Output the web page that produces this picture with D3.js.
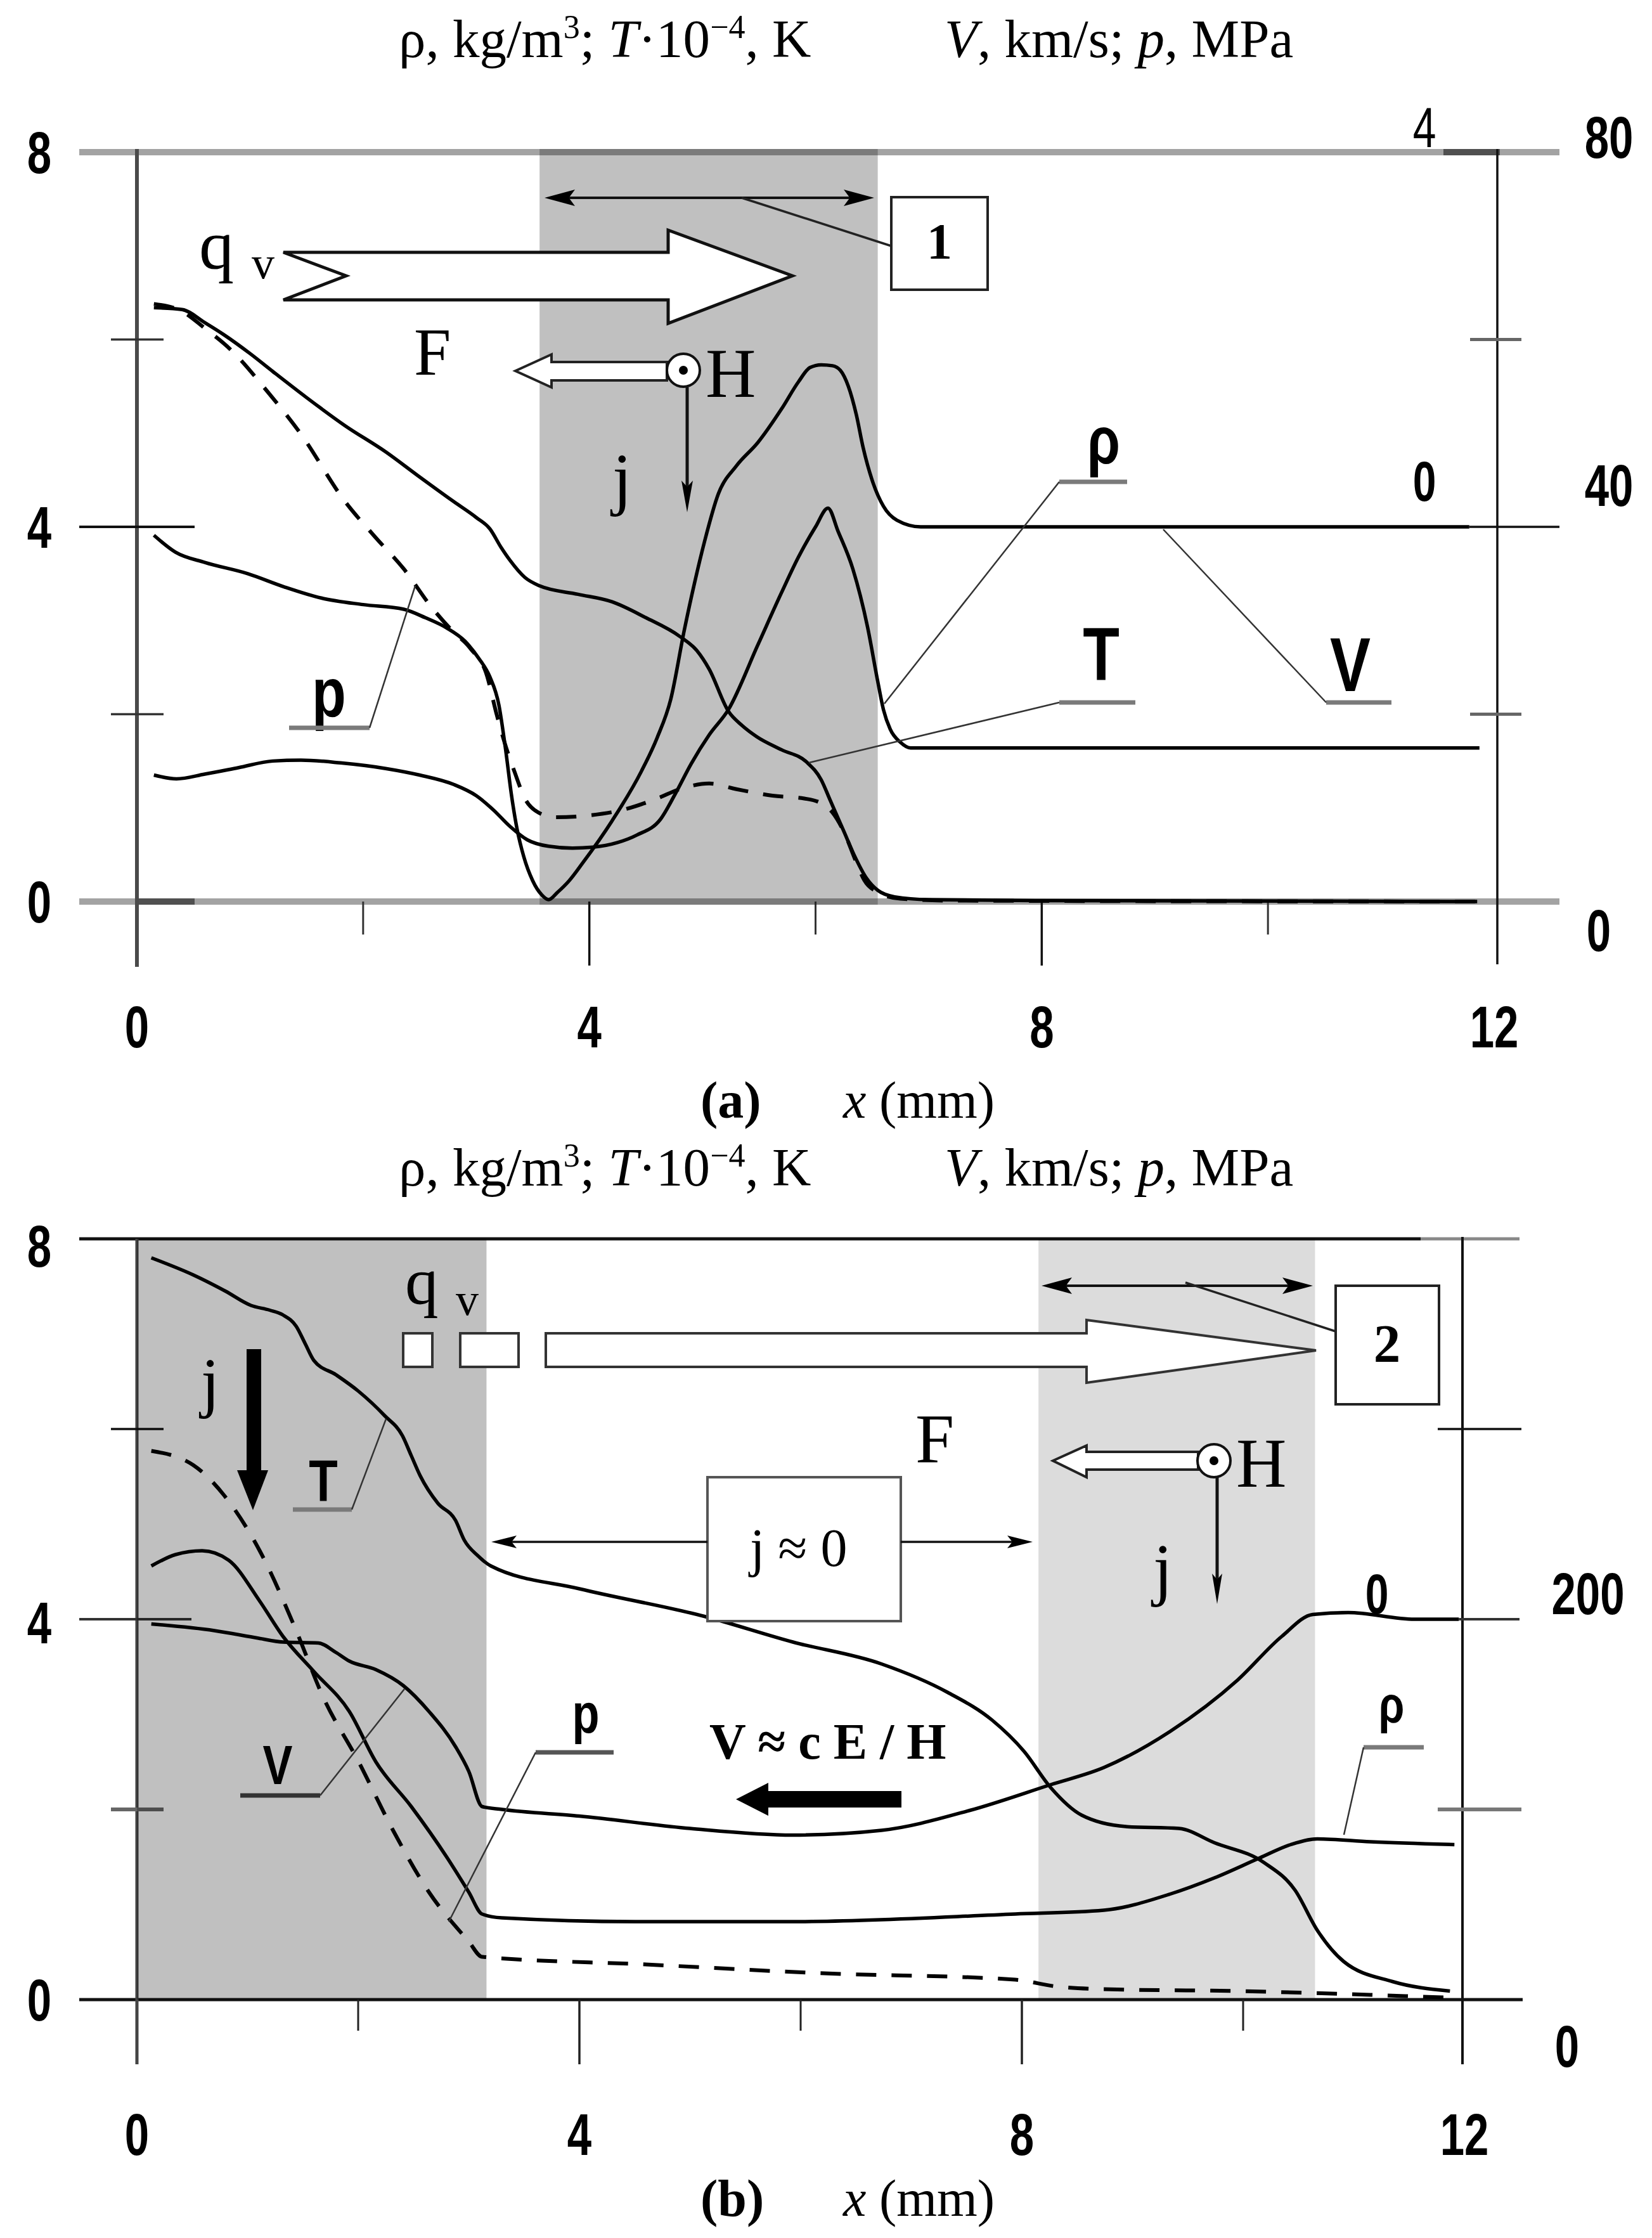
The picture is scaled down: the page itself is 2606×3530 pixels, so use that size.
<!DOCTYPE html>
<html><head><meta charset="utf-8">
<script src="https://cdn.jsdelivr.net/npm/d3@7"></script>
<style>html,body{margin:0;padding:0;background:#fff}svg{display:block}</style>
</head><body>
<svg id="chart" width="2606" height="3530" xmlns="http://www.w3.org/2000/svg"></svg>
<script>
// ---------------- DATA ----------------
const xLabelTicks = [0, 4, 8, 12];
const xMinorTicks = [2, 6, 10];
const yLabelTicks = [0, 4, 8];
const yMinorTicks = [2, 6];
const rightTicksA = [0, 40, 80];      // p, MPa (panel a)
const rightTicksB = [0, 200];         // p, MPa (panel b)
const vTicksA = [0, 4];               // V, km/s (panel a)
const vTicksB = [0];                  // V, km/s (panel b)
const shadeA = [3.56, 6.55];
const shadeBdark = [0, 3.16];
const shadeBlight = [8.15, 10.65];

// Panel (a): x in mm
const aT = [[0.15,6.34],[0.4,6.32],[0.6,6.18],[0.77,6.05],[1.0,5.85],[1.2,5.66],[1.5,5.38],[1.84,5.08],[2.2,4.8],[2.48,4.55],[2.8,4.27],[3.0,4.1],[3.12,3.98],[3.22,3.78],[3.3,3.64],[3.43,3.46],[3.56,3.37],[3.9,3.28],[4.2,3.2],[4.5,3.03],[4.8,2.83],[4.95,2.68],[5.06,2.48],[5.23,2.03],[5.35,1.88],[5.48,1.76],[5.7,1.62],[5.92,1.49],[6.05,1.3],[6.13,1.08],[6.25,0.75],[6.34,0.5],[6.45,0.25],[6.55,0.12],[6.7,0.05],[7.0,0.02],[8.0,0.01],[11.85,0]];
const aRho = [[0.15,1.35],[0.35,1.31],[0.6,1.36],[0.9,1.43],[1.2,1.5],[1.45,1.51],[1.8,1.48],[2.2,1.42],[2.5,1.35],[2.8,1.25],[3.0,1.13],[3.15,0.98],[3.3,0.8],[3.45,0.66],[3.64,0.59],[3.85,0.57],[4.03,0.58],[4.25,0.63],[4.42,0.71],[4.63,0.88],[4.76,1.15],[4.9,1.47],[5.06,1.78],[5.23,2.05],[5.49,2.74],[5.7,3.3],[5.85,3.68],[6.0,4.0],[6.11,4.2],[6.2,3.95],[6.33,3.55],[6.46,2.93],[6.55,2.35],[6.6,2.05],[6.66,1.84],[6.75,1.7],[6.84,1.64],[7.2,1.64],[11.87,1.64]];
const aV = [[0.15,-0.09],[0.34,-0.27],[0.6,-0.38],[0.98,-0.5],[1.3,-0.64],[1.63,-0.76],[2.0,-0.83],[2.36,-0.88],[2.55,-0.97],[2.74,-1.08],[2.9,-1.22],[3.02,-1.4],[3.12,-1.6],[3.2,-1.9],[3.26,-2.38],[3.31,-2.85],[3.36,-3.22],[3.42,-3.52],[3.5,-3.78],[3.58,-3.93],[3.64,-3.98],[3.72,-3.9],[3.82,-3.78],[3.94,-3.59],[4.2,-3.14],[4.46,-2.61],[4.6,-2.25],[4.72,-1.84],[4.84,-1.1],[4.93,-0.6],[5.02,-0.15],[5.14,0.35],[5.3,0.65],[5.49,0.9],[5.7,1.26],[5.85,1.55],[5.95,1.7],[6.05,1.73],[6.15,1.72],[6.22,1.67],[6.29,1.5],[6.36,1.2],[6.42,0.85],[6.5,0.5],[6.6,0.22],[6.72,0.07],[6.93,0],[11.78,0]];
const aP = [[0.15,63.8],[0.4,63],[0.6,61.2],[0.83,58.9],[1.15,54.5],[1.45,49.9],[1.84,42.7],[2.1,39],[2.36,35.5],[2.6,31.5],[2.78,29],[2.95,27],[3.09,24.3],[3.18,20],[3.25,17],[3.34,13.8],[3.43,11],[3.55,9.5],[3.7,9],[4.0,9.2],[4.3,9.8],[4.6,11],[4.8,12],[5.06,12.6],[5.3,12],[5.62,11.3],[5.9,11],[6.05,10.5],[6.15,9.5],[6.26,7.2],[6.35,4.5],[6.43,2.3],[6.55,1],[6.75,0.3],[7.2,0.1],[11.85,0]];

// Panel (b)
const bT = [[0.13,7.8],[0.51,7.62],[0.8,7.45],[1.03,7.3],[1.2,7.25],[1.32,7.2],[1.44,7.08],[1.52,6.9],[1.6,6.72],[1.8,6.57],[2.0,6.4],[2.24,6.14],[2.4,5.93],[2.48,5.72],[2.56,5.51],[2.72,5.22],[2.88,5.04],[2.96,4.83],[3.08,4.67],[3.2,4.56],[4.0,4.32],[5.13,4.03],[5.93,3.76],[6.73,3.53],[7.33,3.23],[7.73,2.94],[8.02,2.61],[8.26,2.23],[8.54,1.94],[8.94,1.82],[9.42,1.8],[9.74,1.65],[10.19,1.44],[10.47,1.15],[10.67,0.73],[10.91,0.4],[11.35,0.19],[11.87,0.09]];
const bRho = [[0.13,4.56],[0.35,4.68],[0.59,4.72],[0.83,4.62],[1.11,4.19],[1.32,3.82],[1.6,3.45],[1.92,3.03],[2.16,2.5],[2.48,2.03],[2.8,1.5],[3.0,1.13],[3.12,0.9],[3.3,0.86],[4.5,0.82],[5.93,0.82],[7.94,0.9],[8.74,0.94],[9.34,1.11],[9.74,1.28],[10.15,1.49],[10.43,1.63],[10.67,1.69],[11.15,1.66],[11.91,1.63]];
const bV = [[0.13,-0.05],[0.7,-0.12],[1.1,-0.2],[1.32,-0.24],[1.64,-0.25],[1.8,-0.35],[1.92,-0.44],[2.16,-0.53],[2.41,-0.7],[2.64,-0.97],[2.88,-1.34],[3.0,-1.6],[3.12,-1.97],[3.3,-2.0],[4.0,-2.07],[5.0,-2.2],[5.93,-2.27],[6.73,-2.22],[7.53,-2.01],[8.26,-1.74],[8.74,-1.56],[9.34,-1.18],[9.95,-0.64],[10.35,-0.18],[10.63,0.05],[10.95,0.07],[11.55,0],[11.95,0]];
const bP = [[0.13,288.5],[0.51,281],[0.79,265],[1.11,236],[1.44,194],[1.68,159.5],[2.0,125.5],[2.32,88.5],[2.64,56.5],[3.0,30.5],[3.12,22.5],[4.6,18.5],[6.13,14],[7.94,10.5],[8.3,7],[8.74,5.5],[9.95,4.5],[11.15,2.5],[11.87,1]];

// ---------------- SCALES ----------------
const xA = d3.scaleLinear().domain([0,12]).range([216,2357]);
const yA = d3.scaleLinear().domain([0,8]).range([1422,240]);
const yAV = d3.scaleLinear().domain([-4,4]).range([1422,240]);
const yAP = d3.scaleLinear().domain([0,80]).range([1422,240]);
const xB = d3.scaleLinear().domain([0,12]).range([216,2310]);
const yB = d3.scaleLinear().domain([0,8]).range([3154,1954]);
const yBV = d3.scaleLinear().domain([-4,4]).range([3154,1954]);
const yBP = d3.scaleLinear().domain([0,400]).range([3154,1954]);

const svg = d3.select('#chart');
const SERIF = '"Liberation Serif","Times New Roman",serif';
const SANS = '"Liberation Sans",Arial,sans-serif';

function ln(g,x1,y1,x2,y2,color,w){
  return g.append('line').attr('x1',x1).attr('y1',y1).attr('x2',x2).attr('y2',y2)
    .attr('stroke',color).attr('stroke-width',w);
}
function poly(g,pts,fill,stroke,w){
  return g.append('path').attr('d','M'+pts.map(p=>p.join(',')).join('L')+'Z')
    .attr('fill',fill).attr('stroke',stroke||'none').attr('stroke-width',w||0).attr('stroke-linejoin','miter');
}
function serif(g,x,y,str,size,o={}){
  const t=g.append('text').attr('x',x).attr('y',y).attr('font-family',SERIF).attr('font-size',size).attr('fill','#000');
  if(o.bold)t.attr('font-weight','bold');
  if(o.italic)t.attr('font-style','italic');
  if(o.anchor)t.attr('text-anchor',o.anchor);
  t.text(str);return t;
}
function narrow(g,cx,by,str,size,o={}){
  return g.append('text').attr('transform',`translate(${cx},${by}) scale(${o.sx||0.75},1)`)
    .attr('text-anchor','middle').attr('font-family',SANS).attr('font-weight',o.weight||'bold')
    .attr('font-size',size).attr('fill','#000').text(str);
}
function head(g,x,y,dir,len,hw){ // dir: 'l','r','d'
  let pts;
  if(dir==='r') pts=[[x,y],[x-len,y-hw],[x-len*0.8,y],[x-len,y+hw]];
  else if(dir==='l') pts=[[x,y],[x+len,y-hw],[x+len*0.8,y],[x+len,y+hw]];
  else pts=[[x,y],[x-hw,y-len],[x,y-len*0.8],[x+hw,y-len]];
  poly(g,pts,'#000');
}
function title(g,y){
  const t=g.append('text').attr('y',y).attr('font-family',SERIF).attr('font-size',85).attr('fill','#000');
  t.append('tspan').attr('x',629).text('ρ, kg/m');
  t.append('tspan').attr('dy',-30).attr('font-size',52).text('3');
  t.append('tspan').attr('dy',30).text('; ');
  t.append('tspan').attr('font-style','italic').text('T');
  t.append('tspan').text('·10');
  t.append('tspan').attr('dy',-30).attr('font-size',52).text('−4');
  t.append('tspan').attr('dy',30).text(', K');
  const t2=g.append('text').attr('y',y).attr('font-family',SERIF).attr('font-size',85).attr('fill','#000');
  t2.append('tspan').attr('x',1490).attr('font-style','italic').text('V');
  t2.append('tspan').text(', km/s; ');
  t2.append('tspan').attr('font-style','italic').text('p');
  t2.append('tspan').text(', MPa');
}
function caption(g,y,lab){
  const c=g.append('text').attr('y',y).attr('font-family',SERIF).attr('font-size',82).attr('fill','#000');
  c.append('tspan').attr('x',1105).attr('font-weight','bold').text(lab);
  c.append('tspan').attr('x',1330).attr('font-style','italic').text('x');
  c.append('tspan').text(' (mm)');
}
function curve(g,data,xs,ys,dashed){
  const l=d3.line().x(d=>xs(d[0])).y(d=>ys(d[1])).curve(d3.curveMonotoneX);
  g.append('path').attr('d',l(data)).attr('fill','none').attr('stroke','#000')
    .attr('stroke-width',dashed?6:5.5).attr('stroke-linejoin','round')
    .attr('stroke-dasharray',dashed?'32,24':null);
}
function labelUnder(g,cx,by,str,size,ux1,ux2,uy,lx,ly,ucolor){
  narrow(g,cx,by,str,size,{sx:0.8});
  ln(g,ux1,uy,ux2,uy,ucolor||'#7a7a7a',7);
  const lxs = (Math.abs(lx-ux1)<Math.abs(lx-ux2))?ux1:ux2;
  ln(g,lxs===ux1?ux1:ux2,uy,lx,ly,'#333',2.5);
}
const DIG=92, dOff=0.358*DIG;

// ================= PANEL (a) =================
const gA=svg.append('g');
title(gA,90);
// frame lines
ln(gA,125,yA(8),2460,yA(8),'#a3a3a3',10);
ln(gA,125,yA(0),2460,yA(0),'#a3a3a3',10);
ln(gA,2277,yA(8),2366,yA(8),'#505050',10);
ln(gA,216,yA(0),307,yA(0),'#505050',10);
ln(gA,xA(0),yA(8)-5,xA(0),1525,'#4a4a4a',6);
ln(gA,2362,yA(8)-5,2362,1521,'#111',3.5);
yMinorTicks.forEach(v=>{ ln(gA,175,yA(v),258,yA(v),'#333',3.5); ln(gA,2319,yA(v),2400,yA(v),'#666',5); });
ln(gA,125,yA(4),307,yA(4),'#111',4);
ln(gA,xA(11.78),yA(4),2460,yA(4),'#111',3.5);
xMinorTicks.forEach(v=>ln(gA,xA(v),yA(0),xA(v),1474,'#333',3));
[4,8].forEach(v=>ln(gA,xA(v),yA(0),xA(v),1523,'#111',3.5));
// shading (multiplied over frame lines)
gA.append('rect').attr('x',xA(shadeA[0])).attr('width',xA(shadeA[1])-xA(shadeA[0]))
  .attr('y',yA(8)-5).attr('height',yA(0)-yA(8)+10).attr('fill','#c0c0c0').style('mix-blend-mode','multiply');
// tick labels
yLabelTicks.forEach(v=>narrow(gA,62,yA(v)+dOff,String(v),DIG));
xLabelTicks.forEach(v=>narrow(gA,xA(v),1619+dOff,String(v),DIG));
const rOffA={0:45,40:-66,80:-24}, rXA={0:2522,40:2538,80:2538};
rightTicksA.forEach(v=>narrow(gA,rXA[v],yAP(v)+rOffA[v]+dOff,String(v),DIG));
const vOffA={0:-74,4:-41};
vTicksA.forEach(v=>narrow(gA,2247,yAV(v)+vOffA[v]+dOff,String(v),88,{weight:v===4?'normal':'bold'}));
// curves
curve(gA,aT,xA,yA);
curve(gA,aRho,xA,yA);
curve(gA,aV,xA,yAV);
curve(gA,aP,xA,yAP,true);
// annotations
poly(gA,[[447,398],[1054,398],[1054,363],[1250,435],[1054,510],[1054,473],[447,473],[546,435]],'#fff','#111',5);
serif(gA,314,424,'q',110);
serif(gA,397,439,'v',72);
ln(gA,880,312,1360,312,'#111',4);
head(gA,859,312,'l',48,13); head(gA,1379,312,'r',48,13);
ln(gA,1170,312,1406,388,'#222',3.5);
gA.append('rect').attr('x',1406).attr('y',311).attr('width',152).attr('height',146).attr('fill','#fff').attr('stroke','#222').attr('stroke-width',4);
serif(gA,1482,408,'1',80,{anchor:'middle',bold:true});
poly(gA,[[813,585],[870,559],[870,571],[1052,571],[1052,600],[870,600],[870,611]],'#fff','#222',4);
gA.append('circle').attr('cx',1078).attr('cy',584).attr('r',26).attr('fill','#fff').attr('stroke','#111').attr('stroke-width',4);
gA.append('circle').attr('cx',1078).attr('cy',584).attr('r',7).attr('fill','#000');
serif(gA,653,591,'F',105);
serif(gA,1113,626,'H',110);
ln(gA,1084,611,1084,770,'#111',5);
head(gA,1084,808,'d',50,9);
serif(gA,966,792,'j',110);
// curve labels
labelUnder(gA,519,1130,'p',110,456,583,1148,655,924);
labelUnder(gA,1741,731,'ρ',105,1671,1778,760,1395,1110);
labelUnder(gA,1737,1073,'T',118,1671,1791,1108,1276,1203);
labelUnder(gA,2130,1090,'V',120,2092,2195,1108,1835,835);
caption(gA,1763,'(a)');

// ================= PANEL (b) =================
const gB=svg.append('g');
title(gB,1870);
ln(gB,125,yB(8),2241,yB(8),'#111',5);
ln(gB,2241,yB(8),2397,yB(8),'#888',5);
ln(gB,125,yB(0),2402,yB(0),'#111',5);
ln(gB,xB(0),yB(8),xB(0),3256,'#444',5);
ln(gB,2307,yB(8)-3,2307,3256,'#111',4);
ln(gB,175,yB(6),258,yB(6),'#111',3.5);
ln(gB,175,yB(2),258,yB(2),'#666',6);
ln(gB,125,yB(4),302,yB(4),'#333',4);
ln(gB,2268,yB(6),2400,yB(6),'#111',3.5);
ln(gB,2268,yB(2),2400,yB(2),'#777',6);
ln(gB,xB(11.95),yB(4),2397,yB(4),'#333',4);
xMinorTicks.forEach(v=>ln(gB,xB(v),yB(0),xB(v),3203,'#222',3));
[4,8].forEach(v=>ln(gB,xB(v),yB(0),xB(v),3256,'#222',3.5));
gB.append('rect').attr('x',xB(shadeBdark[0])).attr('width',xB(shadeBdark[1])-xB(shadeBdark[0]))
  .attr('y',yB(8)).attr('height',yB(0)-yB(8)).attr('fill','#c0c0c0').style('mix-blend-mode','multiply');
gB.append('rect').attr('x',xB(shadeBlight[0])).attr('width',xB(shadeBlight[1])-xB(shadeBlight[0]))
  .attr('y',yB(8)).attr('height',yB(0)-yB(8)).attr('fill','#dcdcdc').style('mix-blend-mode','multiply');
const lOffB={0:0,4:5,8:11};
yLabelTicks.forEach(v=>narrow(gB,62,yB(v)+lOffB[v]+dOff,String(v),DIG));
xLabelTicks.forEach(v=>narrow(gB,xB(v),3366+dOff,String(v),DIG));
const rOffB={0:73,200:-41}, rXB={0:2472,200:2505};
rightTicksB.forEach(v=>narrow(gB,rXB[v],yBP(v)+rOffB[v]+dOff,String(v),DIG));
vTicksB.forEach(v=>narrow(gB,2172,yBV(v)-42+dOff,String(v),88));
curve(gB,bT,xB,yB);
curve(gB,bRho,xB,yB);
curve(gB,bV,xB,yBV);
curve(gB,bP,xB,yBP,true);
// annotations
serif(gB,639,2056,'q',105);
serif(gB,719,2074,'v',72);
gB.append('rect').attr('x',636).attr('y',2103).attr('width',46).attr('height',53).attr('fill','#fff').attr('stroke','#333').attr('stroke-width',4);
gB.append('rect').attr('x',726).attr('y',2103).attr('width',92).attr('height',53).attr('fill','#fff').attr('stroke','#333').attr('stroke-width',4);
poly(gB,[[861,2103],[1714,2103],[1714,2082],[2076,2130],[1714,2181],[1714,2156],[861,2156]],'#fff','#333',4);
ln(gB,1665,2028,2050,2028,'#111',4);
head(gB,1643,2028,'l',48,13); head(gB,2071,2028,'r',48,13);
ln(gB,1870,2023,2107,2100,'#222',3.5);
gB.append('rect').attr('x',2107).attr('y',2028).attr('width',163).attr('height',187).attr('fill','#fff').attr('stroke','#222').attr('stroke-width',4);
serif(gB,2188,2148,'2',85,{anchor:'middle',bold:true});
serif(gB,1444,2307,'F',110);
poly(gB,[[1661,2304],[1714,2280],[1714,2290],[1890,2290],[1890,2318],[1714,2318],[1714,2330]],'#fff','#222',4);
gB.append('circle').attr('cx',1915).attr('cy',2304).attr('r',26).attr('fill','#fff').attr('stroke','#111').attr('stroke-width',4);
gB.append('circle').attr('cx',1915).attr('cy',2304).attr('r',7).attr('fill','#000');
serif(gB,1950,2345,'H',110);
ln(gB,1920,2331,1920,2495,'#111',5);
head(gB,1920,2530,'d',48,8);
serif(gB,1819,2512,'j',110);
gB.append('rect').attr('x',1116).attr('y',2330).attr('width',305).attr('height',227).attr('fill','#fff').attr('stroke','#555').attr('stroke-width',4);
serif(gB,1183,2470,'j ≈ 0',84);
ln(gB,1116,2432,800,2432,'#111',3.5); head(gB,775,2432,'l',40,10);
ln(gB,1421,2432,1605,2432,'#111',3.5); head(gB,1629,2432,'r',40,10);
gB.append('rect').attr('x',389).attr('y',2128).attr('width',23).attr('height',195).attr('fill','#000');
poly(gB,[[374,2319],[423,2319],[399,2382]],'#000');
serif(gB,317,2215,'j',105);
labelUnder(gB,510,2368,'T',93,462,555,2381,609,2238);
labelUnder(gB,438,2814,'V',88,379,505,2832,638,2664,'#333');
labelUnder(gB,924,2733,'p',88,845,968,2764,708,3031,'#555');
labelUnder(gB,2195,2717,'ρ',82,2151,2246,2756,2120,2894);
serif(gB,1119,2774,'V ≈ c E / H',80,{bold:true});
poly(gB,[[1161,2838],[1212,2812],[1212,2825],[1422,2825],[1422,2851],[1212,2851],[1212,2864]],'#000');
caption(gB,3495,'(b)');
</script>
</body></html>
